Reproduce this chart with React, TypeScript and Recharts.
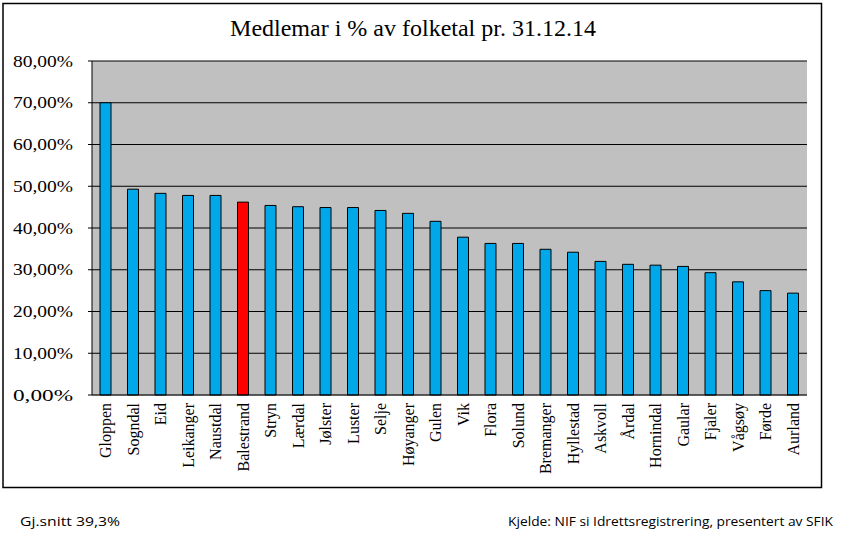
import { BarChart, Bar, XAxis, YAxis, CartesianGrid, Cell } from "recharts";

const kommunar = [
  "Gloppen", "Sogndal", "Eid", "Leikanger", "Naustdal", "Balestrand", "Stryn", "Lærdal",
  "Jølster", "Luster", "Selje", "Høyanger", "Gulen", "Vik", "Flora", "Solund", "Bremanger",
  "Hyllestad", "Askvoll", "Årdal", "Hornindal", "Gaular", "Fjaler", "Vågsøy", "Førde", "Aurland",
];

const medlemProsent = [
  70.0, 49.3, 48.3, 47.8, 47.8, 46.2, 45.4, 45.1, 44.9, 44.9, 44.2, 43.5, 41.6, 37.8, 36.3,
  36.3, 34.9, 34.2, 32.0, 31.3, 31.1, 30.8, 29.3, 27.1, 25.0, 24.4,
];

const yTicks = [0, 10, 20, 30, 40, 50, 60, 70, 80];
const highlight = "Balestrand";

const data = kommunar.map((name, i) => ({ name, value: medlemProsent[i] }));

const serif = "'Liberation Serif', 'Times New Roman', serif";
const sans = "'Open Sans', 'Liberation Sans', sans-serif";

const fmtPct = (v: number) => v.toFixed(2).replace(".", ",") + "%";

function YTick({ x, y, payload }: any) {
  return (
    <text x={x} y={y} dy="0.35em" textAnchor="end" fontFamily={serif} fontSize={16} fill="#000"
      textLength={60} lengthAdjust="spacingAndGlyphs">
      {fmtPct(payload.value)}
    </text>
  );
}

function XTick({ x, y, payload }: any) {
  return (
    <text x={x} y={y} transform={`rotate(-90 ${x} ${y})`} textAnchor="end" dy="0.35em"
      fontFamily={serif} fontSize={16} fill="#000">
      {payload.value}
    </text>
  );
}

// top line of the plot frame is grey, the others black
function GridLine(props: any) {
  const { x1, y1, x2, y2, index } = props;
  return <line x1={x1} y1={y1} x2={x2} y2={y2} stroke={index === 0 ? "#808080" : "#000"} strokeWidth={1} />;
}

export default function App() {
  return (
    <div style={{ position: "absolute", left: 0, top: 0, width: 859, height: 533, background: "#fff" }}>
      <svg width={859} height={533} style={{ position: "absolute", left: 0, top: 0 }}>
        <rect x={3} y={3.5} width={818.5} height={484} fill="none" stroke="#000" strokeWidth={1.5} />
        <text x={413} y={36} textAnchor="middle" fontFamily={serif} fontSize={24} fill="#000">
          Medlemar i % av folketal pr. 31.12.14
        </text>
        <text x={20} y={526} fontFamily={sans} fontSize={12} fill="#000" textLength={100} lengthAdjust="spacingAndGlyphs">
          Gj.snitt 39,3%
        </text>
        <text x={833} y={526} textAnchor="end" fontFamily={sans} fontSize={12} fill="#000" textLength={325} lengthAdjust="spacingAndGlyphs">
          Kjelde: NIF si Idrettsregistrering, presentert av SFIK
        </text>
      </svg>
      <div style={{ position: "absolute", left: 0, top: 0 }}>
        <BarChart width={859} height={533} data={data} margin={{ top: 61, right: 52, bottom: 38, left: 0 }}>
          <CartesianGrid vertical={false} fill="#C0C0C0" horizontal={GridLine as any} />
          <XAxis dataKey="name" interval={0} height={100} tickLine={false} axisLine={{ stroke: "#000" }} tick={<XTick />} />
          <YAxis width={92} domain={[0, 80]} ticks={yTicks} tickSize={4} tickMargin={15}
            axisLine={{ stroke: "#000" }} tickLine={{ stroke: "#000" }} tick={<YTick />} />
          <Bar dataKey="value" barSize={11} stroke="#000" strokeWidth={1} isAnimationActive={false}>
            {data.map((d) => (
              <Cell key={d.name} fill={d.name === highlight ? "#FF0000" : "#00A8EA"} />
            ))}
          </Bar>
        </BarChart>
      </div>
    </div>
  );
}
